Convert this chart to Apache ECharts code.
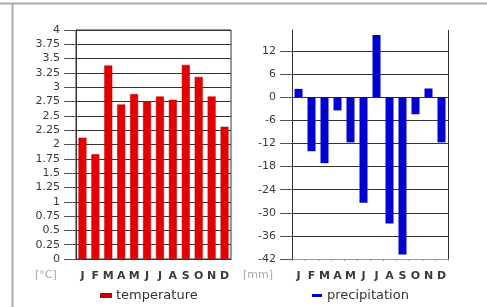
<!DOCTYPE html>
<html>
<head>
<meta charset="utf-8">
<script src="https://cdn.jsdelivr.net/npm/echarts@6/dist/echarts.min.js"></script>
<style>
    html, body { margin: 0; padding: 0; background: #fff; }
    #chart { width: 487px; height: 307px; }
</style>
</head>
<body>
<div id="chart"></div>
<script>
// climate anomaly diagram: monthly temperature and precipitation change
const months = ['J', 'F', 'M', 'A', 'M', 'J', 'J', 'A', 'S', 'O', 'N', 'D']
const temperature = [2.12, 1.83, 3.38, 2.7, 2.88, 2.75, 2.84, 2.78, 3.39, 3.18, 2.84, 2.31]
const precipitation = [2.2, -14, -17.1, -3.4, -11.7, -27.4, 16.2, -32.8, -40.8, -4.4, 2.3, -11.7]

const labelFont = {
    color: '#3a3a3a',
    fontSize: 11,
    fontFamily: 'DejaVu Sans'
}
const monthFont = {
    color: '#3a3a3a',
    fontSize: 11,
    fontWeight: 'bold',
    fontFamily: 'DejaVu Sans'
}
const legendFont = {
    color: '#333',
    fontSize: 13,
    fontFamily: 'DejaVu Sans'
}

const chart = echarts.init(document.getElementById('chart'))

// right-hand chart: hide the split line at the (non-aligned) top
const precipLines = []
for (let v = -42; v <= 12; v += 6) precipLines.push('#333')
precipLines.push('rgba(0,0,0,0)')

const option = {
    animation: false,
    backgroundColor: '#fff',
    grid: [
        { left: 76, right: 256, top: 30, bottom: 48, show: true, borderColor: '#333', borderWidth: 1 },
        { left: 292, right: 39, top: 30, bottom: 48 }
    ],
    legend: [
        {
            data: ['temperature'],
            left: 95,
            top: 284,
            icon: 'rect',
            itemWidth: 10,
            itemHeight: 3,
            itemGap: 2,
            textStyle: legendFont
        },
        {
            data: ['precipitation'],
            left: 307,
            top: 284,
            icon: 'rect',
            itemWidth: 10,
            itemHeight: 3,
            itemGap: 2,
            textStyle: legendFont
        }
    ],
    graphic: [
        // outer frame lines
        { type: 'line', shape: { x1: 0, y1: 3.5, x2: 487, y2: 3.5 }, style: { stroke: '#aaa', lineWidth: 2 } },
        { type: 'line', shape: { x1: 12.5, y1: 3, x2: 12.5, y2: 307 }, style: { stroke: '#aaa', lineWidth: 2 } },
        { type: 'text', left: 35, top: 270, style: { text: '[°C]', fill: '#aaa', fontSize: 11, fontFamily: 'DejaVu Sans' } },
        { type: 'text', left: 243, top: 270, style: { text: '[mm]', fill: '#aaa', fontSize: 11, fontFamily: 'DejaVu Sans' } }
    ],
    xAxis: [
        {
            type: 'category',
            gridIndex: 0,
            data: months,
            axisLine: { lineStyle: { color: '#333' } },
            axisTick: { show: false },
            axisLabel: Object.assign({ interval: 0, margin: 12 }, monthFont)
        },
        {
            type: 'category',
            gridIndex: 1,
            data: months,
            axisLine: { onZero: false, lineStyle: { color: '#999' } },
            axisTick: { show: true, length: 2, lineStyle: { color: '#999' } },
            axisLabel: Object.assign({ interval: 0, margin: 12 }, monthFont),
            // a single split tick gets stretched to both edges: used as the side frame
            splitLine: {
                show: true,
                interval: (index) => index === months.length - 1,
                lineStyle: { color: '#333' }
            }
        }
    ],
    yAxis: [
        {
            type: 'value',
            gridIndex: 0,
            min: 0,
            max: 4,
            interval: 0.25,
            axisLine: { show: true, lineStyle: { color: '#333' } },
            axisTick: { show: true, length: 12, lineStyle: { color: '#555' } },
            axisLabel: Object.assign({ margin: 16 }, labelFont),
            splitLine: { show: true, lineStyle: { color: '#333' } }
        },
        {
            type: 'value',
            gridIndex: 1,
            min: -42,
            max: 17.5,
            interval: 6,
            axisLine: { show: true, onZero: false, lineStyle: { color: '#333' } },
            axisTick: { show: true, length: 12, lineStyle: { color: '#555' } },
            axisLabel: Object.assign({ margin: 16, showMaxLabel: false }, labelFont),
            splitLine: { show: true, lineStyle: { color: precipLines } }
        }
    ],
    series: [
        {
            name: 'temperature',
            type: 'bar',
            xAxisIndex: 0,
            yAxisIndex: 0,
            barWidth: 8,
            itemStyle: { color: '#e40000', borderColor: '#c00000', borderWidth: 0.5 },
            data: temperature
        },
        {
            name: 'precipitation',
            type: 'bar',
            xAxisIndex: 1,
            yAxisIndex: 1,
            barWidth: 8,
            itemStyle: { color: '#0000d0' },
            data: precipitation
        }
    ]
}

chart.setOption(option)
</script>
</body>
</html>
